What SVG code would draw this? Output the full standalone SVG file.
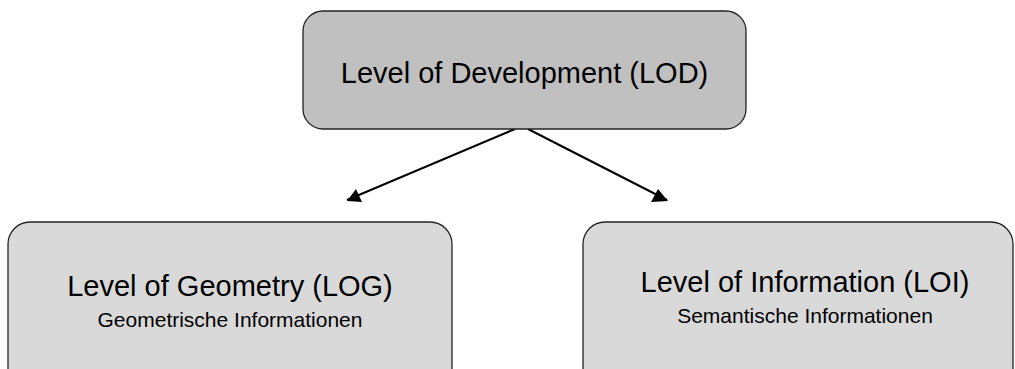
<svg xmlns="http://www.w3.org/2000/svg" width="1015" height="369" viewBox="0 0 1015 369">
<style>
.box{stroke:#222;stroke-width:1.3}
.main{font-family:"Liberation Sans",Arial,sans-serif;font-size:29px;fill:#000;text-anchor:middle}
.sub{font-family:"Liberation Sans",Arial,sans-serif;font-size:21px;fill:#000;text-anchor:middle}
.conn{stroke:#000;stroke-width:2;fill:none}
</style>
<defs>
<marker id="arr" viewBox="0 0 10 10" refX="10" refY="5" markerWidth="8" markerHeight="8" markerUnits="userSpaceOnUse" orient="auto">
<path d="M0,0 L10,5 L0,10 z" fill="#000"/>
</marker>
</defs>
<rect width="1015" height="369" fill="#fff"/>
<g id="connectors">
<line class="conn" x1="515" y1="129" x2="347" y2="200" marker-end="url(#arr)" style="marker-end:none"/>
<polygon points="347,201 356,189 362,202" fill="#000"/>
<line class="conn" x1="528" y1="129" x2="667" y2="200" style="marker-end:none"/>
<polygon points="668,201 651,202 658,189" fill="#000"/>
</g>
<g id="node-lod">
<rect class="box" x="303" y="11" width="443" height="118" rx="20" fill="#c0c0c0"/>
<text class="main" x="524.5" y="83">Level of Development (LOD)</text>
</g>
<g id="node-log">
<rect class="box" x="8" y="222" width="444" height="170" rx="22" fill="#d9d9d9"/>
<text class="main" x="230" y="296">Level of Geometry (LOG)</text>
<text class="sub" x="230" y="327">Geometrische Informationen</text>
</g>
<g id="node-loi">
<rect class="box" x="583" y="222" width="430" height="170" rx="22" fill="#d9d9d9"/>
<text class="main" x="805" y="292">Level of Information (LOI)</text>
<text class="sub" x="805" y="323">Semantische Informationen</text>
</g>
</svg>
